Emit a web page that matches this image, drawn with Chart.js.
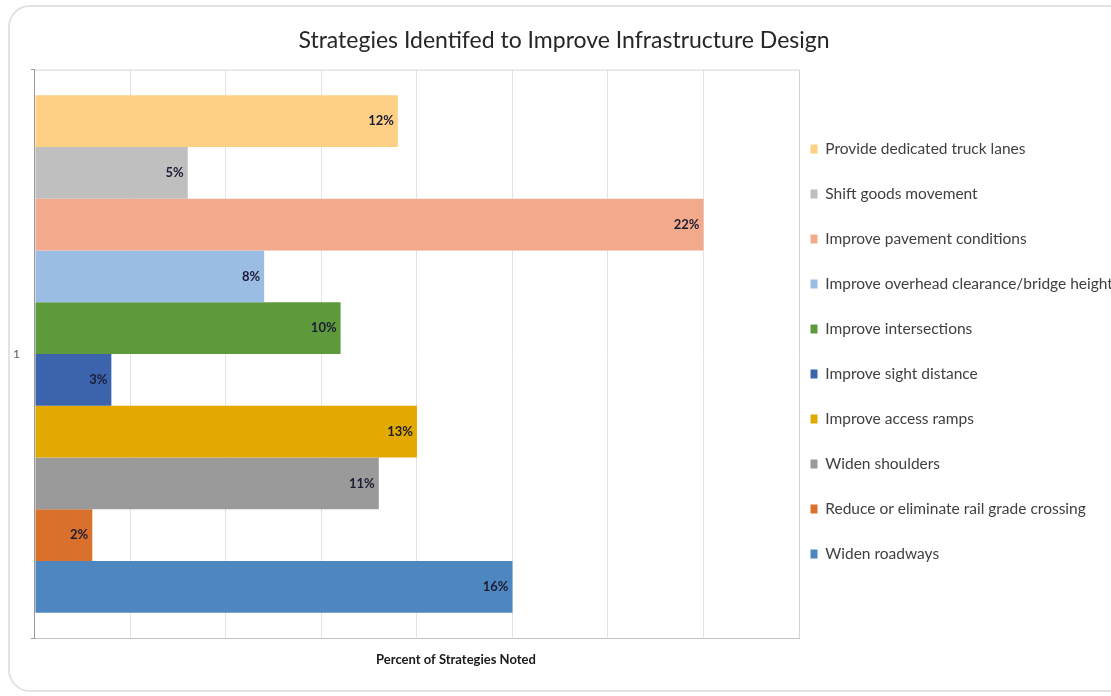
<!DOCTYPE html>
<html>
<head>
<meta charset="utf-8">
<title>Strategies Identifed to Improve Infrastructure Design</title>
<script src="https://cdn.jsdelivr.net/npm/chart.js@4/dist/chart.umd.min.js"></script>
<style>
    html, body { margin: 0; padding: 0; background: #fff; overflow: hidden; }
    .frame {
        position: absolute; left: 8px; top: 5px; width: 1200px; height: 683px;
        border: 2px solid #e2e2e2; border-radius: 22px;
    }
    .wrap { position: absolute; left: 0; top: 0; width: 1126px; height: 696px; }
</style>
</head>
<body>
<div class="frame"></div>
<div class="wrap"><canvas id="strategyChart"></canvas></div>
<script>
// 데이터
const categories = ['1'];
const strategyNames = [
    'Provide dedicated truck lanes',
    'Shift goods movement',
    'Improve pavement conditions',
    'Improve overhead clearance/bridge height',
    'Improve intersections',
    'Improve sight distance',
    'Improve access ramps',
    'Widen shoulders',
    'Reduce or eliminate rail grade crossing',
    'Widen roadways'
];
// percent of strategies noted
const strategyValues = [11.875, 5, 21.875, 7.5, 10, 2.5, 12.5, 11.25, 1.875, 15.625];
const strategyColors = ['#fdd085', '#bfbfbf', '#f3aa8c', '#9bbde4', '#5e9a3c',
                        '#3b64ad', '#e2aa00', '#9a9a9a', '#d9702c', '#4e86bf'];

const FONT = 'Lato, "Noto Sans", sans-serif';

// 막대 끝 라벨 + 플롯 테두리
const barLabels = {
    id: 'barLabels',
    afterLayout(chart) {
        // legend sits a little closer to the plot than its padding allows
        chart.legend.left = chart.chartArea.right - 18;
        chart.legend.top += 7;
    },
    beforeDatasetsDraw(chart) {
        const { ctx, chartArea: a } = chart;
        ctx.save();
        ctx.strokeStyle = '#d4d4d4';
        ctx.lineWidth = 1;
        ctx.beginPath();
        ctx.moveTo(a.left, a.top + 0.5);
        ctx.lineTo(a.right + 0.5, a.top + 0.5);
        ctx.lineTo(a.right + 0.5, a.bottom);
        ctx.stroke();
        ctx.restore();
    },
    afterDatasetsDraw(chart) {
        const ctx = chart.ctx;
        ctx.save();
        ctx.font = 'bold 13px ' + FONT;
        ctx.fillStyle = '#1c1c34';
        ctx.textAlign = 'right';
        ctx.textBaseline = 'middle';
        chart.data.datasets.forEach((ds, i) => {
            const bar = chart.getDatasetMeta(i).data[0];
            ctx.fillText(Math.round(ds.data[0]) + '%', bar.x - 4, bar.y);
        });
        ctx.restore();
    }
};

const ctx = document.getElementById('strategyChart').getContext('2d');
const chart = new Chart(ctx, {
    type: 'bar',
    data: {
        labels: categories,
        datasets: strategyNames.map((name, i) => ({
            label: name,
            data: [strategyValues[i]],
            backgroundColor: strategyColors[i],
            borderWidth: 0
        }))
    },
    options: {
        indexAxis: 'y',
        responsive: true,
        maintainAspectRatio: false,
        animation: false,
        categoryPercentage: 0.91,
        barPercentage: 1,
        layout: { padding: { left: 2, right: 0, top: 0, bottom: 0 } },
        plugins: {
            title: {
                display: true,
                text: 'Strategies Identifed to Improve Infrastructure Design',
                color: '#262626',
                font: { family: FONT, size: 23, weight: 'normal', lineHeight: 1.2 },
                padding: { top: 27, bottom: 15 }
            },
            legend: {
                position: 'right',
                maxWidth: 327,
                labels: {
                    color: '#404040',
                    font: { family: FONT, size: 15.5 },
                    boxWidth: 7,
                    boxHeight: 9,
                    padding: 29.5
                }
            },
            tooltip: { enabled: false }
        },
        scales: {
            x: {
                min: 0,
                max: 25,
                ticks: { display: false, stepSize: 3.125 },
                grid: { color: '#e3e3e3', drawTicks: false },
                border: { color: '#c4c4c4' },
                title: {
                    display: true,
                    text: '\u2003\u2003\u2003\u2003\u2003\u2003\u2003\u2003Percent of Strategies Noted',
                    color: '#1a1a1a',
                    font: { family: FONT, size: 13, weight: 'bold', lineHeight: 1.2 },
                    padding: { top: 14, bottom: 28 }
                }
            },
            y: {
                ticks: { color: '#595959', font: { family: FONT, size: 12 }, padding: 11 },
                grid: { drawOnChartArea: false, tickLength: 4, color: '#9a9a9a' },
                border: { color: '#9a9a9a' }
            }
        }
    },
    plugins: [barLabels]
});
</script>
</body>
</html>
